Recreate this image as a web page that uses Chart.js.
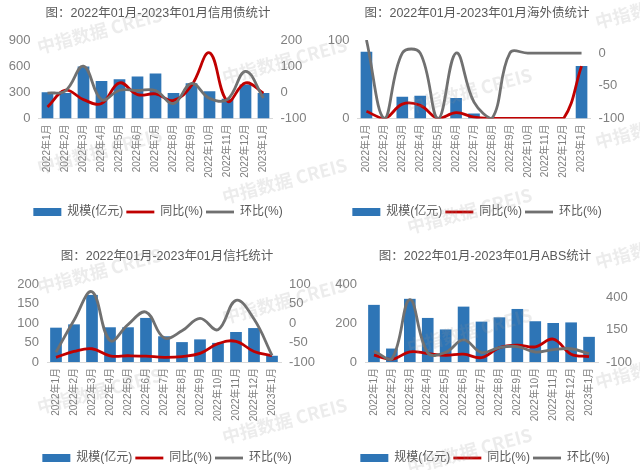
<!DOCTYPE html>
<html><head><meta charset="utf-8">
<script src="https://cdn.jsdelivr.net/npm/chart.js@4"></script>
<style>
html,body{margin:0;padding:0;background:#fff;overflow:hidden;width:640px;height:470px;position:relative}
.box{position:absolute;width:320px;height:235px}
.wm{position:absolute;white-space:nowrap;font:bold 18px 'Noto Sans CJK SC','Liberation Sans',sans-serif;color:rgba(150,150,150,0.18);transform:rotate(-15deg);transform-origin:0 100%;pointer-events:none;line-height:22px}
</style></head><body>
<div class="box" style="left:0;top:0"><canvas id="c1" width="320" height="235"></canvas></div>
<div class="box" style="left:320px;top:0"><canvas id="c2" width="320" height="235"></canvas></div>
<div class="box" style="left:0;top:239px"><canvas id="c3" width="320" height="235"></canvas></div>
<div class="box" style="left:320px;top:239px"><canvas id="c4" width="320" height="235"></canvas></div>
<div id="wmLayer"></div>
<script>
// ---------- DATA ----------
const categories = ['2022年1月','2022年2月','2022年3月','2022年4月','2022年5月','2022年6月','2022年7月','2022年8月','2022年9月','2022年10月','2022年11月','2022年12月','2023年1月'];
const seriesNames = ['规模(亿元)','同比(%)','环比(%)'];

const creditTitle = '图：2022年01月-2023年01月信用债统计';
const creditScale = [300, 292, 596, 431, 450, 481, 515, 292, 404, 311, 227, 390, 292];
const creditYoY   = [-56, 8, -28, -43, 36, -9, -6, -31, 26, 151, -34, 36, -3];
const creditMoM   = [-3, 6, 100, -28, 8, 7, 7, -43, 34, -23, -27, 80, -22];
const creditLeftTicks  = [0, 300, 600, 900];
const creditRightTicks = [-100, 0, 100, 200];

const overseasTitle = '图：2022年01月-2023年01月海外债统计';
const overseasScale = [85, 0, 27.7, 29, 0, 26, 6.4, 0, 0, 0, 0, 0, 66.8];
const overseasYoY   = [-89, -100, -78, -80, -100, -91, -98, -100, -100, -100, -100, -100, -20];
const overseasMoM   = [20, -100, 0, 0, -100, 0, -75, -100, 0, 0, 0, 0, 0];
const overseasLeftTicks  = [0, 100];
const overseasRightTicks = [-100, -50, 0];

const trustTitle = '图：2022年01月-2023年01月信托统计';
const trustScale = [88, 96.5, 172, 89, 89, 113, 66, 51, 58, 49, 77, 87, 16];
const trustYoY   = [-88, -73, -66, -84, -84, -85, -88, -86, -78, -53, -47, -73, -84];
const trustMoM   = [-75, 7, 80, -45, -4, 28, -38, -20, 12, -17, 58, 10, -83];
const trustLeftTicks  = [0, 50, 100, 150, 200];
const trustRightTicks = [-100, -50, 0, 50, 100];

const absTitle = '图：2022年01月-2023年01月ABS统计';
const absScale = [293, 69, 324, 226, 167, 284, 207, 229, 272, 209, 200, 203, 129];
const absYoY   = [-48, -79, -22, -35, -48, -40, -66, 11, 30, 17, 76, -40, -58];
const absMoM   = [-15, -76, 379, -30, -26, 70, -27, 11, 19, -23, -4, 2, -36];
const absLeftTicks  = [0, 200, 400];
const absRightTicks = [-100, 150, 400];

// ---------- STYLE ----------
const FONT = "'Liberation Sans','Noto Sans CJK SC',sans-serif";
const BLUE = '#2e75b6', RED = '#c00000', GRAY = '#707070';
const TXT = '#7f7f7f', TITLE = '#595959';

function makeChart(id, o) {
  const yAxis = (ticks, w, pos) => ({
    position: pos,
    min: ticks.lo, max: ticks.hi,
    afterBuildTicks: s => { s.ticks = ticks.vals.map(v => ({value: v})); },
    afterFit: s => { s.width = w; },
    grid: {display: false, drawTicks: false},
    border: {display: false},
    ticks: {font: {family: FONT, size: 13}, color: TXT, padding: 8}
  });
  new Chart(document.getElementById(id), {
    data: {
      labels: categories,
      datasets: [
        {type: 'bar', label: seriesNames[0], data: o.scale, backgroundColor: BLUE, borderWidth: 0,
         pointStyle: 'rect', barPercentage: 0.65, categoryPercentage: 1, yAxisID: 'y', order: 3},
        {type: 'line', label: seriesNames[1], data: o.yoy, borderColor: RED, backgroundColor: RED,
         borderWidth: 2.8, pointRadius: 0, pointBorderWidth: 2.8, pointStyle: 'line', tension: 0.4,
         yAxisID: 'y1', order: 2},
        {type: 'line', label: seriesNames[2], data: o.mom, borderColor: GRAY, backgroundColor: GRAY,
         borderWidth: 2.8, pointRadius: 0, pointBorderWidth: 2.8, pointStyle: 'line', tension: 0.4,
         yAxisID: 'y1', order: 1}
      ]
    },
    options: {
      responsive: false, animation: false,
      layout: {padding: o.pad},
      plugins: {
        title: {display: true, text: o.title, color: TITLE,
                font: {family: FONT, size: 12.5, weight: 'normal', lineHeight: 1.2},
                padding: o.titlePad},
        legend: {position: 'bottom',
          labels: {usePointStyle: true, pointStyleWidth: 28, boxHeight: 8, padding: 3,
                   color: TITLE, font: {family: FONT, size: 12},
                   sort: (a, b) => a.datasetIndex - b.datasetIndex}},
        tooltip: {enabled: false}
      },
      scales: {
        x: {type: 'category', offset: true,
            afterFit: s => { s.height = o.xH; },
            grid: {display: false, drawTicks: false},
            border: {display: true, color: '#d9d9d9', width: 1},
            ticks: {minRotation: 90, maxRotation: 90, autoSkip: false, padding: 6,
                    font: {family: FONT, size: 10}, color: TXT}},
        y: yAxis(o.left, o.lw, 'left'),
        y1: yAxis(o.right, o.rw, 'right')
      }
    }
  });
}

makeChart('c1', {title: creditTitle, scale: creditScale, yoy: creditYoY, mom: creditMoM,
  left: {lo: 0, hi: 900, vals: creditLeftTicks}, right: {lo: -100, hi: 200, vals: creditRightTicks},
  pad: {left: 0, right: 4, top: 0, bottom: 7}, titlePad: {top: 6, bottom: 19},
  lw: 38.5, rw: 43.5, xH: 84.5});
makeChart('c2', {title: overseasTitle, scale: overseasScale, yoy: overseasYoY, mom: overseasMoM,
  left: {lo: 0, hi: 100, vals: overseasLeftTicks}, right: {lo: -100, hi: 20, vals: overseasRightTicks},
  pad: {left: 0, right: 6, top: 0, bottom: 7}, titlePad: {top: 6, bottom: 19},
  lw: 37.5, rw: 43.5, xH: 84.5});
makeChart('c3', {title: trustTitle, scale: trustScale, yoy: trustYoY, mom: trustMoM,
  left: {lo: 0, hi: 200, vals: trustLeftTicks}, right: {lo: -100, hi: 100, vals: trustRightTicks},
  pad: {left: 14, right: 0, top: 0, bottom: 0}, titlePad: {top: 10, bottom: 20},
  lw: 33, rw: 39, xH: 87});
makeChart('c4', {title: absTitle, scale: absScale, yoy: absYoY, mom: absMoM,
  left: {lo: 0, hi: 400, vals: absLeftTicks}, right: {lo: -100, hi: 500, vals: absRightTicks},
  pad: {left: 10, right: 0, top: 0, bottom: 0}, titlePad: {top: 10, bottom: 20},
  lw: 35, rw: 42, xH: 87});

// watermark tiles
const layer = document.getElementById('wmLayer');
const colX = [40, 225, 410, 598], colShift = [0, 30, 60, -25];
colX.forEach((x, i) => {
  for (let r = -1; r < 5; r++) {
    const y = 55 + colShift[i] + r * 120;
    if (y < 0 || y > 490) continue;
    const s = document.createElement('span');
    s.className = 'wm';
    s.textContent = '中指数据 CREIS';
    s.style.left = x + 'px';
    s.style.top = (y - 20) + 'px';
    layer.appendChild(s);
  }
});
</script>
</body></html>
